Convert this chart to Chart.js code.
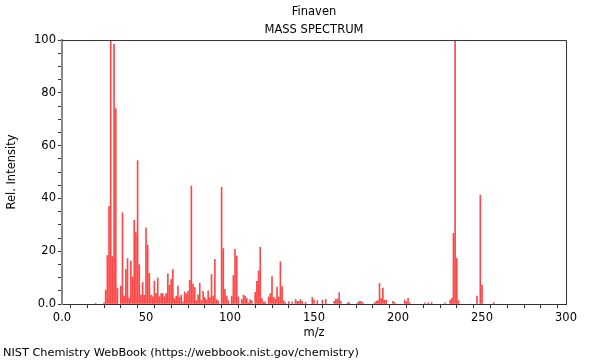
<!DOCTYPE html>
<html lang="en">
<head>
<meta charset="UTF-8">
<title>Finaven - Mass Spectrum</title>
<script src="https://cdn.jsdelivr.net/npm/chart.js@4.4.1/dist/chart.umd.min.js"></script>
<style>
  body { margin: 0; background: #fff; }
</style>
</head>
<body>
<canvas id="myChart" width="600" height="360"></canvas>
<script>
// peaks (m/z, relative intensity)
const mz = [
  20, 25, 26, 27, 28, 29, 30, 31, 32, 33,
  35, 36, 37, 38, 39, 40, 41, 42, 43, 44,
  45, 46, 47, 48, 49, 50, 51, 52, 53, 54,
  55, 56, 57, 58, 59, 60, 61, 62, 63, 64,
  65, 66, 67, 68, 69, 70, 71, 72, 73, 74,
  75, 76, 77, 78, 79, 80, 81, 82, 83, 84,
  85, 86, 87, 88, 89, 90, 91, 92, 93, 95,
  96, 97, 98, 99, 101, 102, 103, 104, 105, 107,
  108, 109, 110, 111, 112, 113, 115, 116, 117, 118,
  119, 120, 121, 123, 124, 125, 126, 127, 128, 129,
  130, 131, 132, 133, 135, 137, 139, 140, 141, 142,
  143, 145, 149, 150, 152, 155, 157, 162, 163, 164,
  165, 166, 170, 171, 176, 177, 178, 179, 186, 187,
  188, 189, 190, 191, 192, 193, 197, 198, 204, 205,
  206, 207, 216, 218, 220, 228, 231, 232, 233, 234,
  235, 236, 247, 249, 250, 257
];
const intensity = [
  0.3, 0.5, 5.3, 18.4, 37, 100, 18, 98.4, 74, 5.9,
  6.8, 34.6, 3, 13.1, 17.2, 2.3, 16.3, 10.3, 31.7, 27.1,
  54.3, 14.9, 3.4, 8.2, 3.4, 28.9, 22.3, 11.6, 3.4, 2.8,
  8.7, 4, 9.9, 2.8, 4, 4, 2.8, 4, 11.4, 7.2,
  9.3, 13.1, 2.1, 3, 6.8, 2.7, 3.4, 0.8, 4.6, 3.9,
  4.8, 9, 44.7, 7.6, 6.3, 1.3, 3.5, 7.9, 1.3, 4.8,
  2.5, 1.7, 5, 2.4, 11.2, 3, 16.9, 1.7, 1.2, 44.2,
  21, 5.6, 3, 1.3, 3, 10.8, 20.7, 18.2, 2.7, 1.7,
  3.4, 3, 2.1, 0.5, 1.7, 1.2, 4.4, 8.6, 12.6, 21.5,
  2.1, 0.8, 0.8, 2.7, 4, 10.4, 2.5, 1.9, 6.4, 2.7,
  16, 6.6, 1.2, 0.5, 0.9, 0.8, 1.7, 1, 1, 1.7,
  1, 0.7, 2.5, 1.5, 1.3, 1.5, 1.8, 1, 1.9, 1.9,
  4.3, 1, 0.5, 0.5, 0.5, 1, 1, 0.5, 0.5, 1,
  1.3, 7.8, 2.1, 6, 1.5, 1.5, 1, 0.6, 1.5, 0.8,
  2.2, 0.5, 0.5, 0.5, 0.6, 0.5, 1.5, 2.2, 26.8, 99.5,
  17.3, 1.3, 3, 41.3, 7.2, 0.6
];
const titleLines = ['Finaven', 'MASS SPECTRUM'];
const footer = 'NIST Chemistry WebBook (https://webbook.nist.gov/chemistry)';

Chart.defaults.font.family = 'DejaVu Sans';
Chart.defaults.font.size = 11.5;
Chart.defaults.color = '#000';

// top and right edges of the plot box
const frame = {
  id: 'frame',
  afterDatasetsDraw(chart) {
    const a = chart.chartArea, ctx = chart.ctx;
    ctx.save();
    ctx.strokeStyle = '#333';
    ctx.lineWidth = 1;
    ctx.beginPath();
    ctx.moveTo(a.left, a.top + 0.5);
    ctx.lineTo(a.right + 0.5, a.top + 0.5);
    ctx.lineTo(a.right + 0.5, a.bottom);
    ctx.stroke();
    ctx.restore();
  }
};

const ctx = document.getElementById('myChart').getContext('2d');
new Chart(ctx, {
  type: 'bar',
  data: {
    datasets: [{
      data: mz.map((m, i) => ({ x: m, y: intensity[i] })),
      backgroundColor: 'rgba(255, 0, 0, 0.72)',
      borderWidth: 0,
      barThickness: 1
    }]
  },
  options: {
    responsive: false,
    animation: false,
    layout: { padding: { left: 3, right: 34, top: 0, bottom: 0 } },
    plugins: {
      legend: { display: false },
      tooltip: { enabled: false },
      title: {
        display: true,
        text: titleLines,
        fullSize: false,
        font: { size: 11.5, weight: 'normal', lineHeight: 1.48 },
        padding: { top: 4, bottom: 2 }
      },
      subtitle: {
        display: true,
        text: footer,
        position: 'bottom',
        align: 'start',
        font: { size: 11.3 },
        padding: { top: 0, bottom: 0 }
      }
    },
    scales: {
      x: {
        type: 'linear',
        offset: false,
        min: 0,
        max: 300,
        afterFit: s => { s.height = 42.4; },
        ticks: {
          stepSize: 10,
          autoSkip: false,
          maxRotation: 0,
          padding: 3,
          callback: v => v % 50 === 0 ? (v === 0 ? '0.0' : v) : ''
        },
        grid: { drawOnChartArea: false, tickLength: 4, tickColor: '#333' },
        border: { color: '#333', width: 1 },
        title: { display: true, text: 'm/z', padding: { top: 0, bottom: 7 } }
      },
      y: {
        min: 0,
        max: 100,
        afterFit: s => { s.width = 59; },
        ticks: {
          stepSize: 5,
          autoSkip: false,
          padding: 2,
          callback: v => v % 20 === 0 ? (v === 0 ? '0.0' : v) : ''
        },
        grid: { drawOnChartArea: false, tickLength: 4, tickColor: '#333' },
        border: { color: '#888', width: 2 },
        title: { display: true, text: 'Rel. Intensity', padding: { top: 2, bottom: 0 } }
      }
    }
  },
  plugins: [frame]
});
</script>
</body>
</html>
